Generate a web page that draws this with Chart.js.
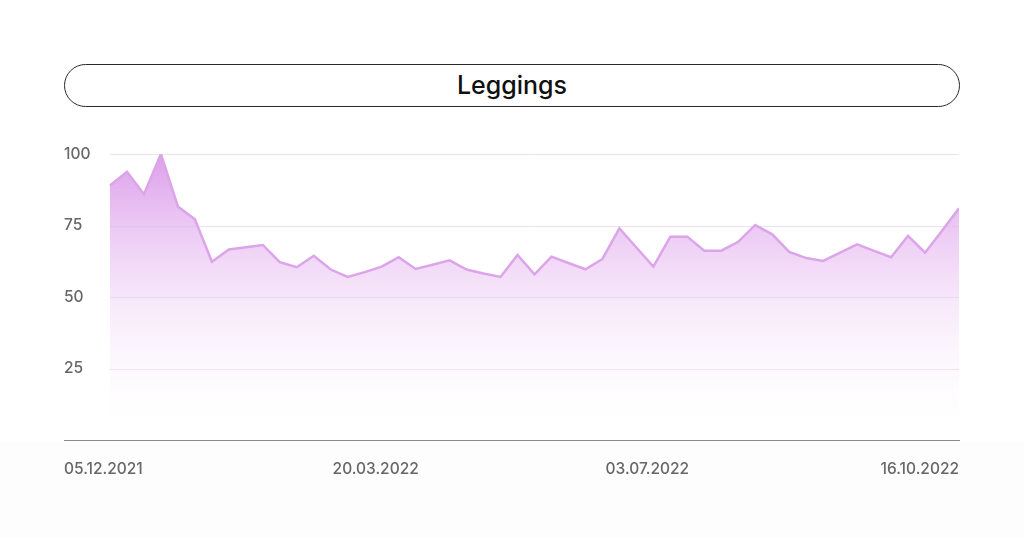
<!DOCTYPE html>
<html>
<head>
<meta charset="utf-8">
<script src="https://cdn.jsdelivr.net/npm/chart.js@4.4.1/dist/chart.umd.min.js"></script>
<style>
    html, body {
        margin: 0;
        padding: 0;
        width: 1024px;
        height: 538px;
        background: #ffffff;
        overflow: hidden;
        font-family: Inter, "Open Sans", sans-serif;
    }
    #floor {
        position: absolute;
        left: 0;
        top: 441px;
        width: 1024px;
        height: 97px;
        background: #fdfdfd;
    }
    #title {
        position: absolute;
        left: 64px;
        top: 64px;
        width: 894px;
        height: 41px;
        border: 1px solid #2a2a2a;
        border-radius: 22px;
        text-align: center;
        line-height: 41px;
        font-size: 25px;
        font-weight: 500;
        color: #111;
    }
    #wrap {
        position: absolute;
        left: 0;
        top: 0;
        width: 1024px;
        height: 538px;
    }
</style>
</head>
<body>
<div id="floor"></div>
<div id="title">Leggings</div>
<div id="wrap"><canvas id="trend-chart"></canvas></div>
<script>
// Interesse semanal (0-100)
const chartTitle = "Leggings";
const dateTicks = ["05.12.2021", "20.03.2022", "03.07.2022", "16.10.2022"];
const yTicks = [25, 50, 75, 100];
const values = [
    89, 93.8, 85.9, 100, 81.6, 77.2, 62.3, 66.6, 67.4, 68.2,
    62.2, 60.4, 64.4, 59.6, 57, 58.7, 60.6, 63.9, 59.8, 61.3,
    62.8, 59.6, 58.2, 57, 64.7, 57.9, 64.1, 61.9, 59.7, 63.3,
    74, 67.3, 60.6, 71.1, 71.1, 66.2, 66.2, 69.3, 75.2, 71.9,
    65.8, 63.6, 62.6, 65.5, 68.4, 66.1, 63.9, 71.4, 65.5, 73.2,
    81
];

document.getElementById("title").textContent = chartTitle;

const lastIdx = values.length - 1;
// o eixo começa antes do primeiro ponto (espaço dos rótulos do eixo y)
const xMin = -lastIdx * 46 / 849;

// linhas de grade só a partir do primeiro ponto
const partialGrid = {
    id: "partialGrid",
    beforeDatasetsDraw(chart) {
        const { ctx, chartArea, scales } = chart;
        const x0 = scales.x.getPixelForValue(0);
        ctx.save();
        ctx.strokeStyle = "#ebe3ee";
        ctx.lineWidth = 1;
        yTicks.forEach((v) => {
            const y = Math.round(scales.y.getPixelForValue(v)) + 0.5;
            ctx.beginPath();
            ctx.moveTo(x0, y);
            ctx.lineTo(chartArea.right, y);
            ctx.stroke();
        });
        ctx.restore();
    }
};

function areaFill(context) {
    const { ctx, chartArea } = context.chart;
    if (!chartArea) return "rgba(220,160,235,0.4)";
    const g = ctx.createLinearGradient(0, chartArea.top, 0, chartArea.bottom);
    g.addColorStop(0, "rgba(216,148,232,0.9)");
    g.addColorStop(0.45, "rgba(236,200,244,0.55)");
    g.addColorStop(1, "rgba(255,255,255,0)");
    return g;
}

const ctx = document.getElementById("trend-chart").getContext("2d");
new Chart(ctx, {
    type: "line",
    data: {
        datasets: [{
            label: chartTitle,
            data: values.map((v, i) => ({ x: i, y: v })),
            borderColor: "#dca4e9",
            borderWidth: 2.5,
            backgroundColor: areaFill,
            fill: "origin",
            tension: 0,
            pointRadius: 0
        }]
    },
    options: {
        responsive: true,
        maintainAspectRatio: false,
        animation: false,
        layout: { padding: { left: 64, right: 65, top: 154, bottom: 44 } },
        plugins: { legend: { display: false }, tooltip: { enabled: false } },
        scales: {
            x: {
                type: "linear",
                min: xMin,
                max: lastIdx,
                grid: { display: false, drawTicks: false },
                border: { display: true, color: "#8c8c8c", width: 1 },
                afterBuildTicks(scale) {
                    // distribuição tipo "space-between"
                    const span = scale.max - scale.min;
                    const w = 80 / 895;
                    scale.ticks = dateTicks.map((t, i) => {
                        let f;
                        if (i === 0) f = 0;
                        else if (i === dateTicks.length - 1) f = 1;
                        else f = w / 2 + i * (1 - w) / (dateTicks.length - 1);
                        return { value: scale.min + f * span };
                    });
                },
                afterFit(scale) { scale.height = 54; },
                ticks: {
                    align: "inner",
                    autoSkip: false,
                    maxRotation: 0,
                    padding: 20,
                    color: "#676767",
                    font: { family: "Inter", size: 15.5, weight: "500" },
                    callback: (v, i) => dateTicks[i]
                }
            },
            y: {
                min: 0,
                max: 100,
                grid: { display: false, drawTicks: false },
                border: { display: false },
                afterBuildTicks(scale) {
                    scale.ticks = yTicks.map((v) => ({ value: v }));
                },
                ticks: {
                    mirror: true,
                    padding: 0,
                    color: "#676767",
                    font: { family: "Inter", size: 15.5, weight: "500" }
                }
            }
        }
    },
    plugins: [partialGrid]
});
</script>
</body>
</html>
